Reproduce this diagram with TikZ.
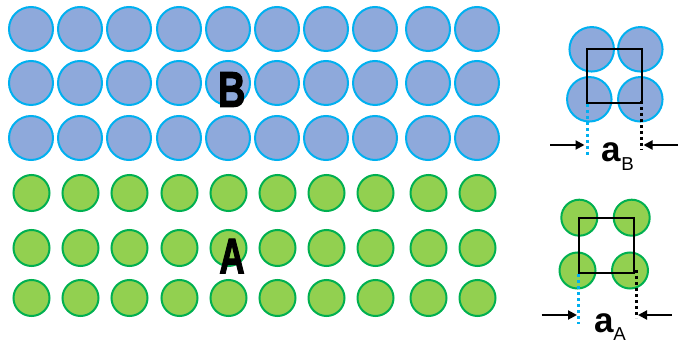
\documentclass[tikz,border=0pt]{standalone}
\usepackage{fontspec}
\setmainfont{Liberation Sans}
\newfontfamily\heavyfont[FakeBold=2.5]{Liberation Sans Bold}
\usetikzlibrary{arrows.meta}
\definecolor{bfill}{HTML}{8EA9DB}
\definecolor{bline}{HTML}{00B0F0}
\definecolor{gfill}{HTML}{92D050}
\definecolor{gline}{HTML}{00B050}
\begin{document}
\begin{tikzpicture}[x=1pt,y=-1pt,
  batom/.style={circle,draw=bline,fill=bfill,line width=2pt,minimum size=44pt,inner sep=0pt},
  gatom/.style={circle,draw=gline,fill=gfill,line width=2pt,minimum size=36pt,inner sep=0pt},
  bigletter/.style={anchor=base,inner sep=0pt,font=\fontsize{50}{50}\selectfont\heavyfont},
  alabel/.style={anchor=base,inner sep=0pt,font=\fontsize{35}{35}\selectfont\bfseries},
  sublabel/.style={anchor=base,inner sep=0pt,font=\fontsize{18.7}{18.7}\selectfont},
  cellbox/.style={draw=black,line width=2pt},
  bdots/.style={draw=bline,line width=3pt,dash pattern=on 3pt off 3pt},
  kdots/.style={draw=black,line width=3pt,dash pattern=on 3pt off 3pt},
  dimarrow/.style={draw=black,line width=2pt,-{Triangle[length=9pt,width=9pt]}}]
\useasboundingbox (0,0) rectangle (679,344);
% B layer
\foreach \x [count=\i] in {31,80,129,179,228,277,326,375,428,477}{
  \foreach \y [count=\j] in {29,83,138}{
    \node[batom] (b-\i-\j) at (\x,\y) {};
  }
  \foreach \y [count=\j] in {193,248,298}{
    \node[gatom] (g-\i-\j) at (\x+0.5,\y) {};
  }
}
\node[bigletter] (labB) at (231.7,106.7) {\scalebox{0.76}[1]{B}};
\node[bigletter] (labA) at (232,273.3) {\scalebox{0.7}[1]{A}};
% B unit cell
\node[batom,minimum size=44.5pt] (tb1) at (591.7,49.3) {};
\node[batom,minimum size=44.5pt] (tb2) at (640.3,49.3) {};
\node[batom,minimum size=44.5pt] (tb3) at (589.3,99.3) {};
\node[batom,minimum size=44.5pt] (tb4) at (640.3,99.3) {};
\draw[cellbox] (586.7,49.3) rectangle (641.7,103.3);
\coordinate (bd1) at (587.3,104);
\coordinate (bd2) at (587.3,156);
\coordinate (kd1) at (641,101);
\coordinate (kd2) at (641,150);
\draw[bdots] (bd1) -- (bd2);
\draw[kdots] (kd1) -- (kd2);
\coordinate (la1) at (550,145);
\coordinate (la2) at (584.5,145);
\coordinate (ra1) at (678,145);
\coordinate (ra2) at (643.5,145);
\draw[dimarrow] (la1) -- (la2);
\draw[dimarrow] (ra1) -- (ra2);
\node[alabel] (aB) at (611,161.7) {a};
\node[sublabel] (sB) at (627.5,170.7) {B};
% A unit cell
\node[gatom] (ta1) at (579.3,217.7) {};
\node[gatom] (ta2) at (631.7,217.7) {};
\node[gatom] (ta3) at (577.5,270.5) {};
\node[gatom] (ta4) at (630,270.5) {};
\draw[cellbox] (579,218.3) rectangle (634.3,272.7);
\coordinate (bd3) at (578.3,274);
\coordinate (bd4) at (578.3,324);
\coordinate (kd3) at (636,270);
\coordinate (kd4) at (636,318);
\draw[bdots] (bd3) -- (bd4);
\draw[kdots] (kd3) -- (kd4);
\coordinate (la3) at (541.7,315);
\coordinate (la4) at (577,315);
\coordinate (ra3) at (671.7,315);
\coordinate (ra4) at (638,315);
\draw[dimarrow] (la3) -- (la4);
\draw[dimarrow] (ra3) -- (ra4);
\node[alabel] (aA) at (604,332.7) {a};
\node[sublabel] (sA) at (619.5,340.7) {A};
\end{tikzpicture}
\end{document}
